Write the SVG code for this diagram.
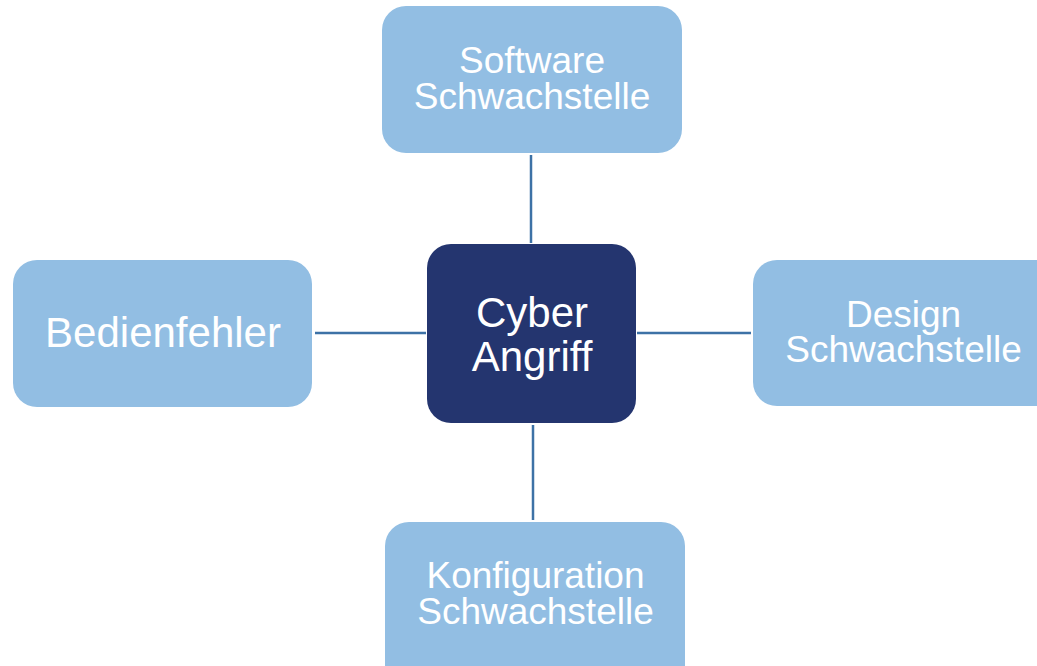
<svg xmlns="http://www.w3.org/2000/svg" width="1037" height="666" viewBox="0 0 1037 666">
<style>
.light{fill:#92BEE3;}
.dark{fill:#24356F;}
text{font-family:"Liberation Sans",Arial,sans-serif;fill:#ffffff;text-anchor:middle;}
.t37{font-size:37px;}
.t42{font-size:42px;}
.conn{stroke:#3D72A6;stroke-width:2.5;fill:none;}
</style>
<rect width="1037" height="666" fill="#ffffff"/>
<g id="connectors">
<line class="conn" x1="531" y1="155" x2="531" y2="243"/>
<line class="conn" x1="315" y1="333" x2="426" y2="333"/>
<line class="conn" x1="637" y1="333" x2="751" y2="333"/>
<line class="conn" x1="533" y1="425" x2="533" y2="520"/>
</g>
<g id="software">
<rect class="light" x="382" y="6" width="300" height="147" rx="24"/>
<text class="t37" x="532" y="73">Software</text>
<text class="t37" x="532" y="109">Schwachstelle</text>
</g>
<g id="cyber">
<rect class="dark" x="427" y="244" width="209" height="179" rx="24"/>
<text class="t42" x="532" y="327">Cyber</text>
<text class="t42" x="532" y="371">Angriff</text>
</g>
<g id="design">
<rect class="light" x="753" y="260" width="310" height="146" rx="24"/>
<text class="t37" x="903.5" y="327">Design</text>
<text class="t37" x="903.5" y="362">Schwachstelle</text>
</g>
<g id="bedienfehler">
<rect class="light" x="13" y="260" width="299" height="147" rx="24"/>
<text class="t42" x="163" y="347">Bedienfehler</text>
</g>
<g id="konfiguration">
<rect class="light" x="385" y="522" width="300" height="170" rx="24"/>
<text class="t37" x="535.5" y="588">Konfiguration</text>
<text class="t37" x="535.5" y="624">Schwachstelle</text>
</g>
</svg>
